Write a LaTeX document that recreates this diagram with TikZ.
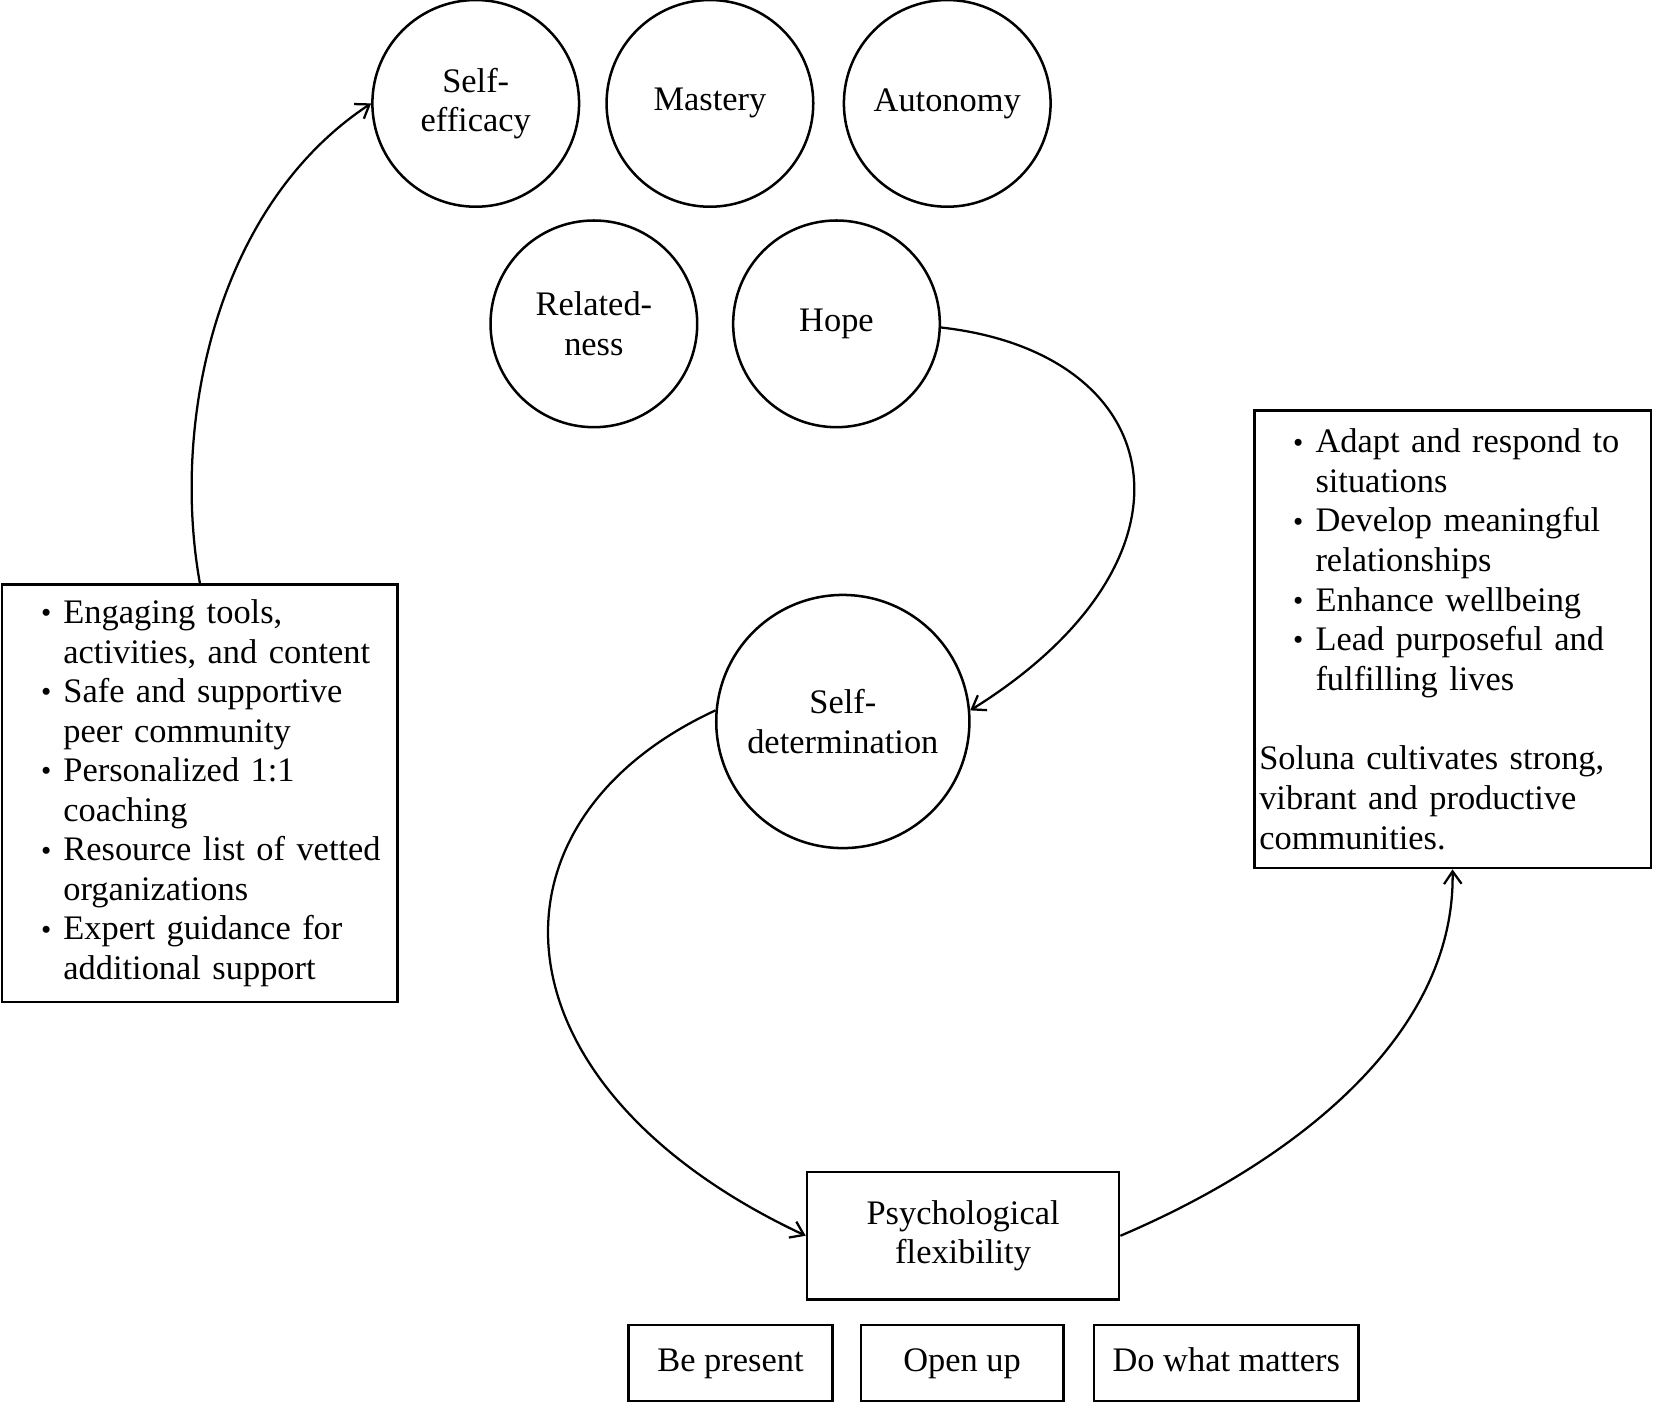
\documentclass[tikz,border=0pt]{standalone}
\usepackage{fontspec}
\setmainfont{Liberation Serif}
\usetikzlibrary{arrows.meta}
\newcommand\bli[1]{\hspace*{15.5pt}\makebox[8.9pt][l]{\raisebox{0.3pt}{\scalebox{0.85}{\textbullet}}}#1}
\newcommand\blc[1]{\hspace*{24.4pt}#1}
\begin{document}
\begin{tikzpicture}[x=0.42pt,y=-0.42pt,
  every node/.style={font=\fontsize{13.7}{15.75}\selectfont},
  circ/.style={draw, circle, line width=1pt, inner sep=0pt, minimum size=82.3pt, align=center},
  box/.style={draw, rectangle, line width=1pt, inner sep=0pt, align=center},
  small/.style={box, minimum height=30.2pt, text height=9.5pt, text depth=3pt},
  conn/.style={line width=0.9pt, -{Straight Barb[length=5pt,width=7pt]}}]
\useasboundingbox (0,0) rectangle (1568,1331);
\fill[white] (0,0) rectangle (1568,1331);
% circles
\node[circ] (se) at (451,98) {Self-\\efficacy};
\node[circ] (ma) at (673,98) {Mastery};
\node[circ] (au) at (898,98) {Autonomy};
\node[circ] (re) at (563,307) {Related-\\ness};
\node[circ] (ho) at (793,307) {Hope};
\node[circ, minimum size=100.8pt] (sd) at (799,684) {Self-\\determination};
% boxes
\node[box, text width=157.5pt, align=left, minimum height=166.3pt] (lb) at (189.5,752) {%
\bli{Engaging tools,}\\
\blc{activities, and content}\\
\bli{Safe and supportive}\\
\blc{peer community}\\
\bli{Personalized 1:1}\\
\blc{coaching}\\
\bli{Resource list of vetted}\\
\blc{organizations}\\
\bli{Expert guidance for}\\
\blc{additional support}};
\node[box, text width=157.9pt, align=left, minimum height=182.3pt] (rb) at (1377,606) {%
\bli{Adapt and respond to}\\
\blc{situations}\\
\bli{Develop meaningful}\\
\blc{relationships}\\
\bli{Enhance wellbeing}\\
\bli{Lead purposeful and}\\
\blc{fulfilling lives}\\[16pt]
\hspace*{2pt}Soluna cultivates strong,\\
\hspace*{2pt}vibrant and productive\\
\hspace*{2pt}communities.};
\node[box, minimum width=124.3pt, minimum height=50.8pt] (pf) at (913,1171.5) {Psychological\\flexibility};
\node[small, minimum width=81.1pt] (bp) at (692.5,1292) {Be present};
\node[small, minimum width=80.6pt] (ou) at (912,1292) {Open up};
\node[small, minimum width=105.4pt] (dw) at (1162.5,1292) {Do what matters};
% connectors
\draw[conn] (lb.north) .. controls (162,400) and (205,195) .. (se.west);
\draw[conn] (ho.-2) .. controls (1110,335) and (1150,530) .. (sd.5);
\draw[conn] (sd.175) .. controls (448,780) and (462,1030) .. (pf.west);
\draw[conn] (pf.east) .. controls (1230,1100) and (1380,980) .. (rb.south);
\end{tikzpicture}
\end{document}
